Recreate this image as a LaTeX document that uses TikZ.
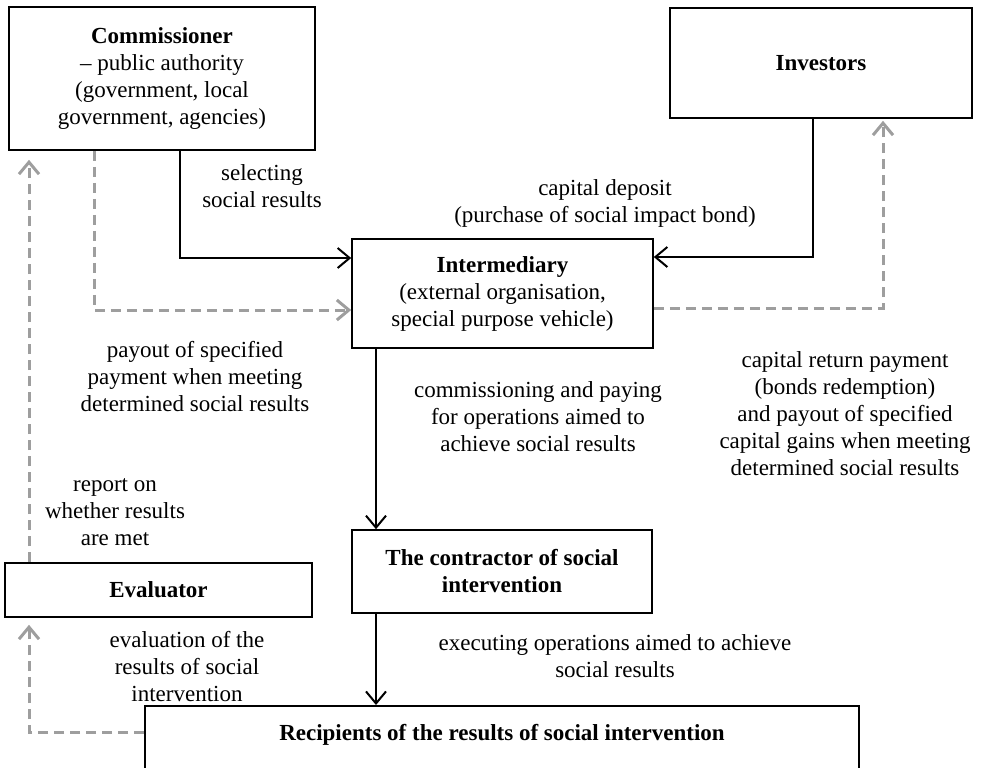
\documentclass[tikz,border=0pt]{standalone}
\usepackage{fontspec}
\setmainfont{Liberation Serif}
\usetikzlibrary{arrows.meta}

\begin{document}
\begin{tikzpicture}[x=0.5pt,y=-0.5pt,font=\fontsize{11.5}{13.5}\selectfont]
  % Colors
  \colorlet{linegrey}{black!38}

  % Styles
  \tikzstyle{box}=[draw,line width=0.8pt,align=center,inner sep=2pt]
  \tikzstyle{label text}=[align=center,inner sep=1pt]
  \tikzstyle{task line}=[line width=1pt,-{Straight Barb[length=6pt,width=10pt]}]
  \tikzstyle{money line}=[line width=1.5pt,draw=linegrey,dash pattern=on 5pt off 3pt,
    -{Straight Barb[length=6pt,width=10pt]}]

  \useasboundingbox (0,0) rectangle (986,767);

  % The boxes
  \node (comm) [box,minimum width=153pt,minimum height=71.5pt] at (162,78.5)
    {\textbf{Commissioner}\\-- public authority\\(government, local\\government, agencies)};
  \node (inv) [box,minimum width=151pt,minimum height=55pt] at (821,63)
    {\textbf{Investors}};
  \node (inter) [box,minimum width=150.5pt,minimum height=54.5pt] at (502.5,293.5)
    {\textbf{Intermediary}\\(external organisation,\\special purpose vehicle)};
  \node (contr) [box,minimum width=150pt,minimum height=41.5pt] at (502,571.5)
    {\textbf{The contractor of social}\\\textbf{intervention}};
  \node (eval) [box,minimum width=153.5pt,minimum height=27pt] at (158.5,590)
    {\textbf{Evaluator}};
  \node (recip) [box,anchor=north,minimum width=357pt,inner ysep=0pt,
    text height=17.5pt,text depth=25pt] at (502,705)
    {\textbf{Recipients of the results of social intervention}};

  % Connectors
  \coordinate (selbend) at (180,258);
  \draw[task line] (comm.south -| selbend) -- (selbend) -- (inter.west |- selbend);

  \coordinate (paybend) at (94,310);
  \draw[money line] (comm.south -| paybend) -- (paybend) -- (inter.west |- paybend);

  \coordinate (depbend) at (813,257);
  \draw[task line] (inv.south -| depbend) -- (depbend) -- (inter.east |- depbend);

  \coordinate (retbend) at (883,308);
  \draw[money line,shorten >=1pt] (inter.east |- retbend) -- (retbend) -- (inv.south -| retbend);

  \coordinate (repline) at (29,0);
  \draw[money line,shorten >=4.5pt] (eval.north -| repline) -- (comm.south -| repline);

  \coordinate (midline) at (376,0);
  \draw[task line] (inter.south -| midline) -- (contr.north -| midline);
  \draw[task line] (contr.south -| midline) -- (recip.north -| midline);

  \coordinate (evbend) at (29,732);
  \draw[money line,shorten >=3.5pt] (recip.west |- evbend) -- (evbend) -- (eval.south -| evbend);

  % Labels
  \node (selectlbl) [label text] at (262,186) {selecting\\social results};
  \node (depositlbl) [label text] at (605,203) {capital deposit\\(purchase of social impact bond)};
  \node (payoutlbl) [label text] at (195,377)
    {payout of specified\\payment when meeting\\determined social results};
  \node (orderlbl) [label text] at (538,417)
    {commissioning and paying\\for operations aimed to\\achieve social results};
  \node (returnlbl) [label text] at (845,414)
    {capital return payment\\(bonds redemption)\\and payout of specified\\capital gains when meeting\\determined social results};
  \node (reportlbl) [label text] at (115,512) {report on\\whether results\\are met};
  \node (evallbl) [label text] at (187,667) {evaluation of the\\results of social\\intervention};
  \node (execlbl) [label text] at (615,656) {executing operations aimed to achieve\\social results};
\end{tikzpicture}
\end{document}
